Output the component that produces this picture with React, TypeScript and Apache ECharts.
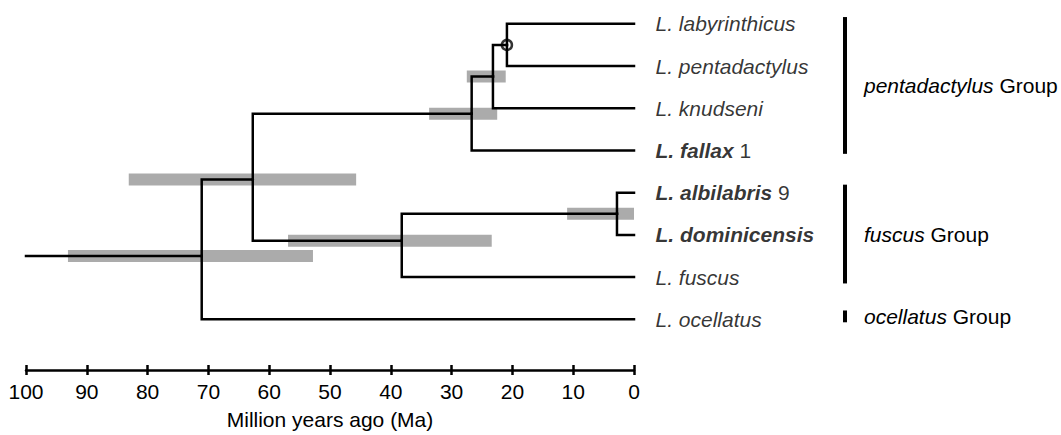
import React, { useEffect, useRef } from 'react';
import * as echarts from 'echarts';

// ---- Tips (terminal taxa), top to bottom ----
const tipLabels = [
  '{i|L. labyrinthicus}',
  '{i|L. pentadactylus}',
  '{i|L. knudseni}',
  '{b|L. fallax}{n| 1}',
  '{b|L. albilabris}{n| 9}',
  '{b|L. dominicensis}',
  '{i|L. fuscus}',
  '{i|L. ocellatus}',
];
const tipRows = [0, 1, 2, 3, 4, 5, 6, 7];
const tipParents = ['labPent', 'labPent', 'pentSub', 'pent', 'albDom', 'albDom', 'fuscusNode', 'root'];

// ---- Internal nodes: age (Ma), row position, parent ----
const nodeIds = ['root', 'nodeA', 'pent', 'pentSub', 'labPent', 'fuscusNode', 'albDom'];
const nodeAges = [71.1, 62.7, 26.7, 23.2, 20.9, 38.2, 2.8];
const nodeRows = [5.5, 3.69, 2.13, 1.25, 0.5, 5.14, 4.5];
const nodeParents = ['', 'root', 'nodeA', 'pent', 'pentSub', 'nodeA', 'fuscusNode'];
// 95% intervals of node ages (Ma); NaN = none drawn
const hpdYoung = [52.8, 45.7, 22.5, 21.1, NaN, 23.4, 0];
const hpdOld = [93.1, 83.1, 33.7, 27.5, NaN, 56.9, 11.0];
const rootStemAge = 100;
const calibratedNodes = ['labPent'];

// ---- Groups ----
const groupNames = ['pentadactylus', 'fuscus', 'ocellatus'];
const groupRowStart = [-0.16, 3.81, 6.79];
const groupRowEnd = [3.08, 6.15, 7.07];

// ---- Axis ----
const axisMin = 0;
const axisMax = 100;
const axisInterval = 10;
const axisTitle = 'Million years ago (Ma)';

const FONT = 'Liberation Sans, Arial, Helvetica, sans-serif';
const FS = 21;
const GRID_H = 370.4;

export default function App() {
  const ref = useRef<HTMLDivElement>(null);

  useEffect(() => {
    if (!ref.current) return;
    const chart = echarts.init(ref.current, null, { renderer: 'svg' });

    const nodeIndex = (id: string) => nodeIds.indexOf(id);

    // Tree edges as elbows
    const edges: any[] = [];
    nodeIds.forEach((id, i) => {
      const p = nodeParents[i];
      if (!p) {
        edges.push({ coords: [[rootStemAge, nodeRows[i]], [nodeAges[i], nodeRows[i]]] });
        return;
      }
      const pi = nodeIndex(p);
      edges.push({
        coords: [
          [nodeAges[pi], nodeRows[pi]],
          [nodeAges[pi], nodeRows[i]],
          [nodeAges[i], nodeRows[i]],
        ],
      });
    });
    tipRows.forEach((r, i) => {
      const pi = nodeIndex(tipParents[i]);
      edges.push({
        coords: [
          [nodeAges[pi], nodeRows[pi]],
          [nodeAges[pi], r],
          [0, r],
        ],
      });
    });

    const hpdBars: any[] = [];
    nodeIds.forEach((id, i) => {
      if (isNaN(hpdYoung[i])) return;
      hpdBars.push({ coords: [[hpdOld[i], nodeRows[i]], [hpdYoung[i], nodeRows[i]]] });
    });

    const calib = calibratedNodes.map((id) => {
      const i = nodeIndex(id);
      return [nodeAges[i], nodeRows[i]];
    });

    const richBase = { fontSize: FS, fontFamily: FONT, color: '#000' };
    const rich = {
      i: { ...richBase, fontStyle: 'italic' },
      b: { ...richBase, fontStyle: 'italic', fontWeight: 'bold' },
      n: { ...richBase },
    };

    const baseX = {
      type: 'value',
      min: axisMin,
      max: axisMax,
      interval: axisInterval,
      inverse: true,
      position: 'bottom',
      splitLine: { show: false },
    };

    chart.setOption({
      animation: false,
      grid: { left: 26, right: 427, top: 2.7, height: GRID_H },
      xAxis: [
        {
          ...baseX,
          axisLine: { show: true, onZero: false, lineStyle: { color: '#000', width: 2.5 } },
          axisTick: { show: true, inside: false, length: 5, lineStyle: { color: '#000', width: 2.5 } },
          axisLabel: { show: true, margin: 11, fontSize: FS, fontFamily: FONT, color: '#000' },
          name: axisTitle,
          nameLocation: 'middle',
          nameGap: 39,
          nameTextStyle: { fontSize: FS, fontFamily: FONT, color: '#000' },
        },
        {
          ...baseX,
          axisLine: { show: false, onZero: false },
          axisTick: { show: true, inside: true, length: 5, lineStyle: { color: '#000', width: 2.5 } },
          axisLabel: { show: false },
        },
      ],
      yAxis: {
        type: 'value',
        min: -0.5,
        max: 8.2,
        inverse: true,
        show: false,
        splitLine: { show: false },
      },
      series: [
        {
          type: 'lines',
          coordinateSystem: 'cartesian2d',
          polyline: true,
          silent: true,
          z: 1,
          lineStyle: { color: '#ababab', width: 12, opacity: 1, cap: 'butt' },
          data: hpdBars,
        },
        {
          type: 'lines',
          coordinateSystem: 'cartesian2d',
          polyline: true,
          silent: true,
          z: 2,
          lineStyle: { color: '#000', width: 2.5, opacity: 1, cap: 'square', join: 'miter' },
          data: edges,
        },
        {
          type: 'scatter',
          silent: true,
          z: 3,
          symbol: 'circle',
          symbolSize: 10,
          itemStyle: { color: 'rgba(0,0,0,0)', borderColor: '#000', borderWidth: 2.5 },
          data: calib,
        },
        {
          type: 'scatter',
          silent: true,
          z: 3,
          symbolSize: 1,
          itemStyle: { color: 'rgba(0,0,0,0)' },
          label: { show: true, position: 'right', distance: 21, rich },
          data: tipRows.map((r, i) => ({ value: [0, r], label: { formatter: tipLabels[i] } })),
        },
        {
          type: 'custom',
          silent: true,
          clip: false,
          z: 3,
          encode: { x: 0, y: [1, 2] },
          data: groupNames.map((g, i) => [0, groupRowStart[i], groupRowEnd[i], i]),
          renderItem: (params: any, api: any) => {
            const s = api.coord([0, api.value(1)]);
            const e = api.coord([0, api.value(2)]);
            const idx = api.value(3);
            return {
              type: 'group',
              children: [
                {
                  type: 'rect',
                  shape: { x: s[0] + 209, y: s[1], width: 4, height: e[1] - s[1] },
                  style: { fill: '#000' },
                },
                {
                  type: 'text',
                  x: s[0] + 230,
                  y: (s[1] + e[1]) / 2,
                  style: {
                    text: '{i|' + groupNames[idx] + '}{n| Group}',
                    rich,
                    align: 'left',
                    verticalAlign: 'middle',
                  },
                },
              ],
            };
          },
        },
      ],
    });

    return () => chart.dispose();
  }, []);

  return (
    <div
      ref={ref}
      style={{ position: 'fixed', left: 0, top: 0, width: 1061, height: 435, background: '#fff' }}
    />
  );
}
